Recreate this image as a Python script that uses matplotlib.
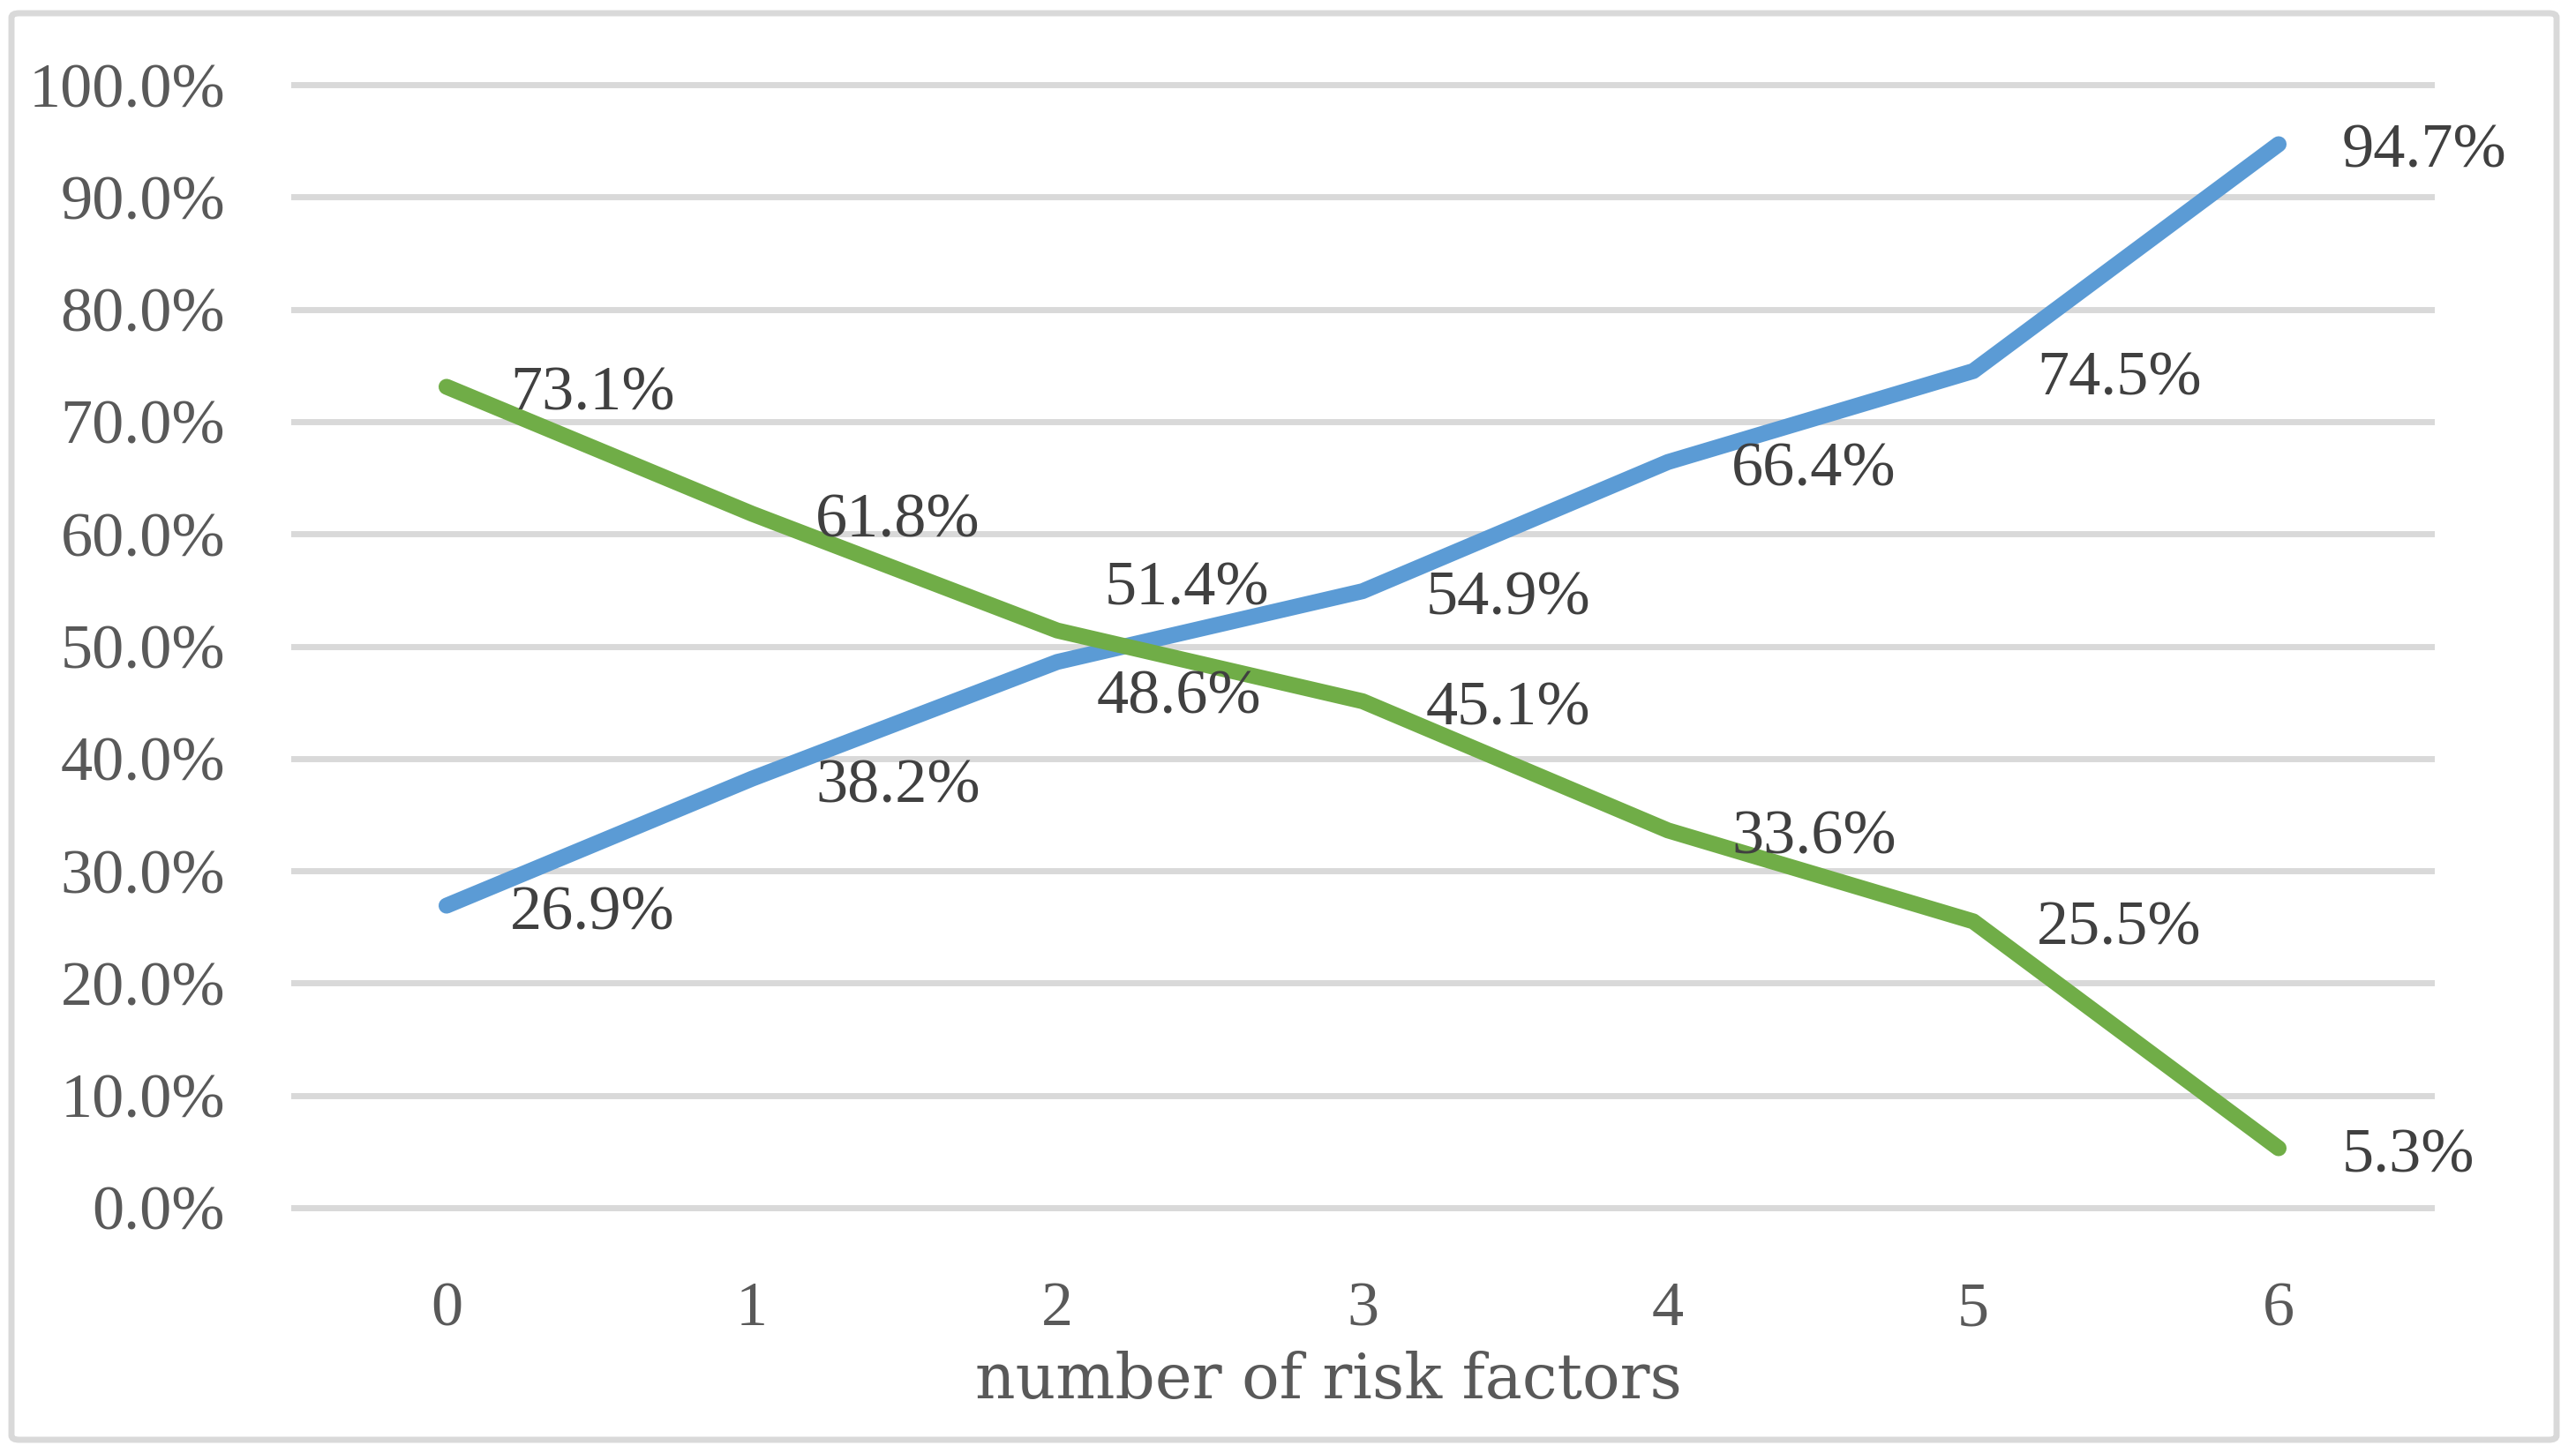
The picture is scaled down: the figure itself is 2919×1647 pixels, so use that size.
import matplotlib
matplotlib.use("Agg")
import matplotlib.pyplot as plt
from matplotlib.patches import FancyBboxPatch

categories = [0, 1, 2, 3, 4, 5, 6]
blue_vals = [26.9, 38.2, 48.6, 54.9, 66.4, 74.5, 94.7]
green_vals = [73.1, 61.8, 51.4, 45.1, 33.6, 25.5, 5.3]
yticks = [0, 10, 20, 30, 40, 50, 60, 70, 80, 90, 100]
xlabel = "number of risk factors"

W, H = 2919, 1647
fig = plt.figure(figsize=(W / 100, H / 100), dpi=100)
plt.rcParams['font.family'] = ['Liberation Serif', 'DejaVu Serif']

ax = fig.add_axes([333 / W, 1 - 1369 / H, (2755 - 333) / W, (1369 - 96) / H])
ax.set_xlim(-0.5, 6.5)
ax.set_ylim(0, 100)

ax.plot(categories, blue_vals, color='#5B9BD5', lw=13, solid_capstyle='round',
        solid_joinstyle='round', zorder=3)
ax.plot(categories, green_vals, color='#70AD47', lw=13, solid_capstyle='round',
        solid_joinstyle='round', zorder=3)

# label offsets in pixels (styling only)
default_off = (72, -9)
special_off = {('blue', 2): (45, -41), ('green', 2): (54, 47)}

for name, series in (('blue', blue_vals), ('green', green_vals)):
    for x, v in zip(categories, series):
        off = special_off.get((name, x), default_off)
        ax.annotate(f"{v:.1f}%", (x, v), xytext=off, textcoords='offset pixels',
                    ha='left', va='center', fontsize=52, color='#404040', zorder=4,
                    annotation_clip=False)

ax.set_yticks(yticks)
ax.set_yticklabels([f"{t:.1f}%" for t in yticks])
ax.set_xticks(categories)
ax.set_xticklabels([str(c) for c in categories])
ax.tick_params(axis='both', length=0, labelsize=52, labelcolor='#595959')
ax.tick_params(axis='y', pad=56)
ax.tick_params(axis='x', pad=60)
ax.grid(axis='y', color='#D9D9D9', lw=5, zorder=0)
ax.grid(axis='x', visible=False)
for gl in ax.get_ygridlines():
    gl.set_clip_on(False)
for s in ax.spines.values():
    s.set_visible(False)

fig.text(1505 / W, 1 - 1566 / H, xlabel, ha='center', va='center', fontsize=51,
         color='#595959', family=['DejaVu Serif'])

frame = FancyBboxPatch((13 / W, 15 / H), (2897 - 13) / W, (1632 - 15) / H,
                       boxstyle='round,pad=0,rounding_size=0.003', transform=fig.transFigure,
                       facecolor='none', edgecolor='#D9D9D9', lw=5, zorder=0)
fig.patches.append(frame)

fig.savefig('out.png', dpi=100, facecolor='white')
